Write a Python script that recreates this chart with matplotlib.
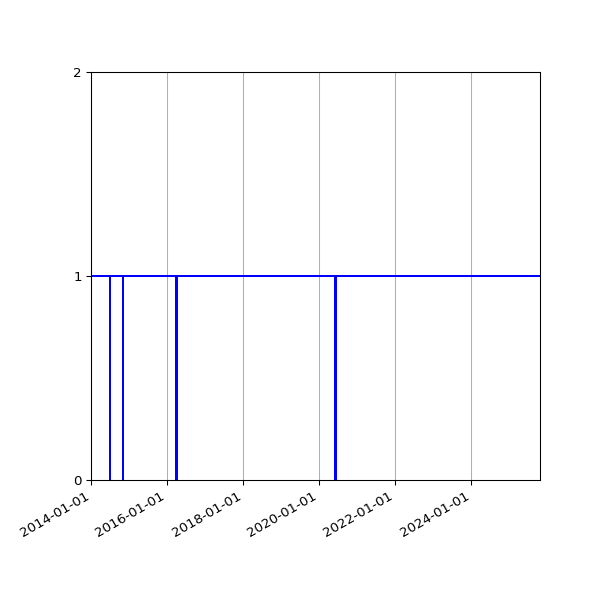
import datetime as dt
import matplotlib
matplotlib.use("Agg")
import matplotlib.pyplot as plt
import matplotlib.dates as mdates

# days when the status dropped to 0 (start, length in days)
drop_dates = ["2014-07-02", "2014-10-29", "2016-03-30", "2020-06-01"]
drop_days = [1, 8, 1, 8]
start = "2014-01-01"
end = "2025-10-21"

d = lambda s: dt.datetime.strptime(s, "%Y-%m-%d")

xs = [d(start)]
ys = [1]
for s, n in zip(drop_dates, drop_days):
    xs += [d(s), d(s) + dt.timedelta(days=n)]
    ys += [0, 1]
xs.append(d(end))
ys.append(1)

fig, ax = plt.subplots(figsize=(6.25, 6.25), dpi=96)
ax.plot(xs, ys, color="b", linewidth=1.5, drawstyle="steps-post")
ax.set_xlim(d(start), d(end))
ax.set_ylim(0, 2)
ax.set_yticks([0, 1, 2])
ax.xaxis.set_major_locator(mdates.YearLocator(2))
ax.xaxis.set_major_formatter(mdates.DateFormatter("%Y-%m-%d"))
ax.grid(axis="x")
fig.autofmt_xdate()
fig.subplots_adjust(left=0.152, right=0.9, top=0.88, bottom=0.2)
fig.savefig("out.png")
